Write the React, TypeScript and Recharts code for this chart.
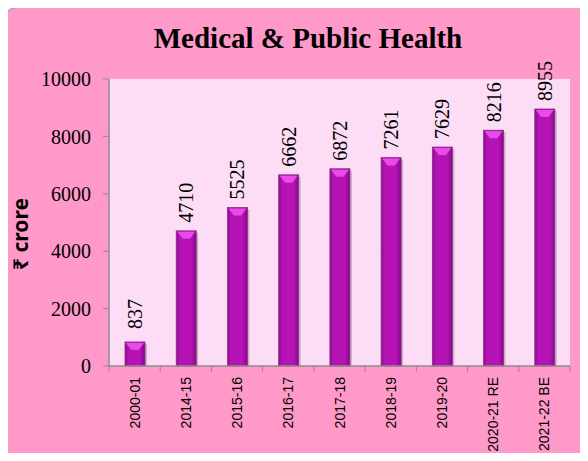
import { BarChart, Bar, XAxis, YAxis, CartesianGrid } from "recharts";

const years = ["2000-01", "2014-15", "2015-16", "2016-17", "2017-18", "2018-19", "2019-20", "2020-21 RE", "2021-22 BE"];
const spending = [837, 4710, 5525, 6662, 6872, 7261, 7629, 8216, 8955];
const yTicks = [0, 2000, 4000, 6000, 8000, 10000];

const data = years.map((year, i) => ({ year, value: spending[i] }));

const W = 588;
const H = 461;
const M = { top: 79, right: 18, left: 49, bottom: 0 };
const Y_AXIS_W = 60;
const X_AXIS_H = 95;
const PLOT_W = W - M.left - M.right - Y_AXIS_W;
const BAND = PLOT_W / years.length;

const serif = '"Liberation Serif", "Times New Roman", serif';
const sans = '"Liberation Sans", Arial, sans-serif';

function BevelBar(props: any) {
  const { x, y, width, height } = props;
  if (!height || height <= 0) return null;
  const bev = Math.min(8, height / 2);
  return (
    <g>
      <rect x={x + 2} y={y + 2} width={width} height={height - 2} fill="#7a5a72" opacity={0.35} />
      <rect x={x} y={y} width={width} height={height} fill="url(#barGrad)" stroke="#8a2f8a" strokeWidth={0.8} />
      <polygon
        points={`${x + 1},${y + 1} ${x + width - 1},${y + 1} ${x + width * 0.68},${y + bev} ${x + width * 0.32},${y + bev}`}
        fill="#e84be8"
      />
    </g>
  );
}

// value written vertically, centred a little above the bar
function renderValue(props: any) {
  const { x, y, width, value, index } = props;
  const cx = Number(x) + Number(width) / 2;
  const cy = Number(y) - 28;
  return (
    <text
      key={`v-${index}`}
      x={cx}
      y={cy}
      transform={`rotate(-90 ${cx} ${cy})`}
      textAnchor="middle"
      dy="0.35em"
      fontFamily={serif}
      fontSize={20}
      fill="#000"
    >
      {value}
    </text>
  );
}

function XTick(props: any) {
  const { x, y, payload, index } = props;
  const top = y - 8;
  return (
    <g>
      <line x1={x - BAND / 2} y1={top} x2={x - BAND / 2} y2={top + 6} stroke="#8c8c8c" strokeWidth={1} />
      {index === years.length - 1 && (
        <line x1={x + BAND / 2} y1={top} x2={x + BAND / 2} y2={top + 6} stroke="#8c8c8c" strokeWidth={1} />
      )}
      <g transform={`translate(${x}, ${top + 11}) rotate(-90)`}>
        <text x={0} y={0} textAnchor="end" dominantBaseline="central" fontFamily={sans} fontSize={14} fill="#000">
          {payload.value}
        </text>
      </g>
    </g>
  );
}

export default function App() {
  return (
    <div style={{ position: "relative", width: W, height: H, margin: -8, overflow: "hidden" }}>
      <div
        style={{
          position: "absolute",
          left: 1,
          top: 7,
          width: W + 4,
          height: H - 9,
          background: "#ff99c9",
          border: "1.5px solid #9a9a9a",
          borderRadius: 16,
          boxSizing: "border-box",
        }}
      />
      <div
        style={{
          position: "absolute",
          left: 0,
          top: 22,
          width: 616,
          textAlign: "center",
          fontFamily: serif,
          fontWeight: "bold",
          fontSize: 29,
          color: "#000",
        }}
      >
        Medical &amp; Public Health
      </div>
      <div
        style={{
          position: "absolute",
          left: 20,
          top: 234,
          transform: "translate(-50%, -50%) rotate(-90deg)",
          fontFamily: '"Noto Sans", "DejaVu Sans", sans-serif',
          fontWeight: "bold",
          fontSize: 21,
          whiteSpace: "nowrap",
          color: "#000",
        }}
      >
        ₹ crore
      </div>
      <div style={{ position: "absolute", left: 0, top: 0 }}>
        <BarChart width={W} height={H} data={data} margin={M} barSize={20}>
          <defs>
            <linearGradient id="barGrad" x1="0" y1="0" x2="1" y2="0">
              <stop offset="0%" stopColor="#8e0a8e" />
              <stop offset="18%" stopColor="#b414b4" />
              <stop offset="75%" stopColor="#b712b7" />
              <stop offset="100%" stopColor="#820a82" />
            </linearGradient>
          </defs>
          <CartesianGrid fill="#fddcf6" horizontal={false} vertical={false} stroke="none" />
          <XAxis
            dataKey="year"
            height={X_AXIS_H}
            interval={0}
            axisLine={{ stroke: "#8c8c8c", strokeWidth: 1.5 }}
            tickLine={false}
            tick={<XTick />}
          />
          <YAxis
            width={Y_AXIS_W}
            domain={[0, 10000]}
            ticks={yTicks}
            interval={0}
            axisLine={{ stroke: "#8c8c8c", strokeWidth: 1.5 }}
            tickLine={{ stroke: "#8c8c8c" }}
            tickSize={6}
            tickMargin={12}
            tick={{ fontFamily: serif, fontSize: 20, fill: "#000" }}
          />
          <Bar dataKey="value" shape={<BevelBar />} label={renderValue} isAnimationActive={false} />
        </BarChart>
      </div>
    </div>
  );
}
